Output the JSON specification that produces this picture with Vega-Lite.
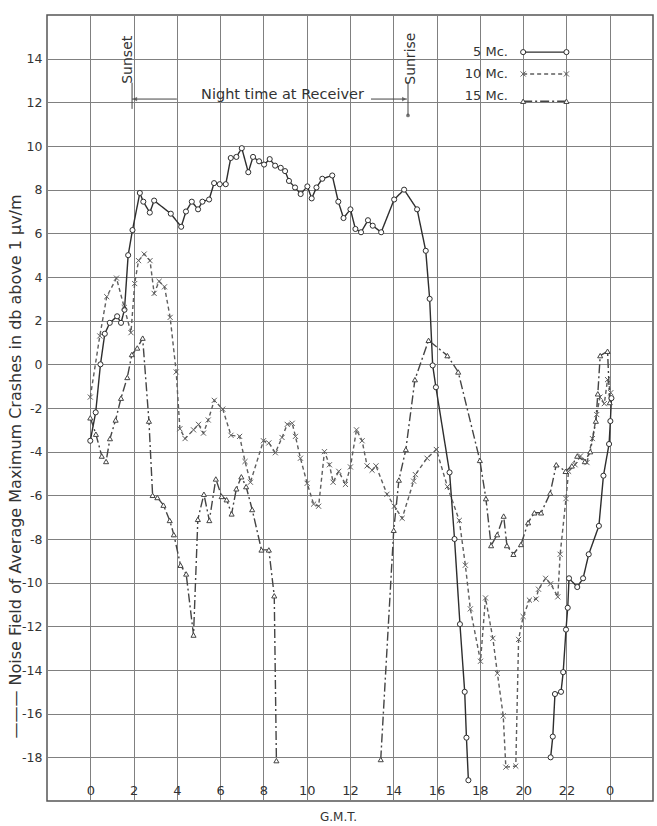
{
  "$schema": "https://vega.github.io/schema/vega-lite/v6.json",
  "width": 606,
  "height": 786,
  "autosize": "none",
  "padding": {"left": 47, "top": 15, "right": 4, "bottom": 25},
  "background": "white",
  "config": {
    "view": {"stroke": "#555", "strokeWidth": 1.5},
    "font": "DejaVu Sans",
    "axis": {"gridColor": "#808080", "gridWidth": 1, "gridOpacity": 1, "domain": false, "ticks": false, "tickSize": 0, "labelColor": "#333", "titleColor": "#333", "labelFont": "DejaVu Sans", "titleFont": "DejaVu Sans"}
  },
  "datasets": {
    "series": [
      {"s": "5 Mc.", "part": "a", "h": 0.0, "v": -3.5},
      {"s": "5 Mc.", "part": "a", "h": 0.25, "v": -2.2},
      {"s": "5 Mc.", "part": "a", "h": 0.47, "v": 0.0},
      {"s": "5 Mc.", "part": "a", "h": 0.67, "v": 1.4},
      {"s": "5 Mc.", "part": "a", "h": 0.9, "v": 1.9},
      {"s": "5 Mc.", "part": "a", "h": 1.24, "v": 2.2},
      {"s": "5 Mc.", "part": "a", "h": 1.42, "v": 1.9},
      {"s": "5 Mc.", "part": "a", "h": 1.58, "v": 2.5},
      {"s": "5 Mc.", "part": "a", "h": 1.75, "v": 5.0},
      {"s": "5 Mc.", "part": "a", "h": 1.95, "v": 6.15},
      {"s": "5 Mc.", "part": "a", "h": 2.29, "v": 7.85},
      {"s": "5 Mc.", "part": "a", "h": 2.45, "v": 7.45},
      {"s": "5 Mc.", "part": "a", "h": 2.75, "v": 6.95},
      {"s": "5 Mc.", "part": "a", "h": 2.95, "v": 7.5},
      {"s": "5 Mc.", "part": "a", "h": 3.72, "v": 6.9},
      {"s": "5 Mc.", "part": "a", "h": 4.2, "v": 6.3},
      {"s": "5 Mc.", "part": "a", "h": 4.42, "v": 7.0},
      {"s": "5 Mc.", "part": "a", "h": 4.69, "v": 7.45},
      {"s": "5 Mc.", "part": "a", "h": 4.98, "v": 7.1},
      {"s": "5 Mc.", "part": "a", "h": 5.18, "v": 7.45},
      {"s": "5 Mc.", "part": "a", "h": 5.49, "v": 7.55},
      {"s": "5 Mc.", "part": "a", "h": 5.72, "v": 8.3},
      {"s": "5 Mc.", "part": "a", "h": 5.98, "v": 8.25},
      {"s": "5 Mc.", "part": "a", "h": 6.26, "v": 8.25},
      {"s": "5 Mc.", "part": "a", "h": 6.49, "v": 9.45},
      {"s": "5 Mc.", "part": "a", "h": 6.75, "v": 9.5},
      {"s": "5 Mc.", "part": "a", "h": 7.0, "v": 9.9},
      {"s": "5 Mc.", "part": "a", "h": 7.3, "v": 8.8},
      {"s": "5 Mc.", "part": "a", "h": 7.52, "v": 9.5},
      {"s": "5 Mc.", "part": "a", "h": 7.8, "v": 9.3},
      {"s": "5 Mc.", "part": "a", "h": 8.03, "v": 9.15},
      {"s": "5 Mc.", "part": "a", "h": 8.29, "v": 9.4},
      {"s": "5 Mc.", "part": "a", "h": 8.54, "v": 9.1},
      {"s": "5 Mc.", "part": "a", "h": 8.8, "v": 9.0},
      {"s": "5 Mc.", "part": "a", "h": 9.0, "v": 8.85},
      {"s": "5 Mc.", "part": "a", "h": 9.18, "v": 8.4},
      {"s": "5 Mc.", "part": "a", "h": 9.46, "v": 8.1},
      {"s": "5 Mc.", "part": "a", "h": 9.72, "v": 7.8},
      {"s": "5 Mc.", "part": "a", "h": 10.03, "v": 8.15},
      {"s": "5 Mc.", "part": "a", "h": 10.23, "v": 7.6},
      {"s": "5 Mc.", "part": "a", "h": 10.45, "v": 8.1},
      {"s": "5 Mc.", "part": "a", "h": 10.72, "v": 8.5},
      {"s": "5 Mc.", "part": "a", "h": 11.18, "v": 8.65},
      {"s": "5 Mc.", "part": "a", "h": 11.46, "v": 7.45},
      {"s": "5 Mc.", "part": "a", "h": 11.7, "v": 6.7},
      {"s": "5 Mc.", "part": "a", "h": 12.02, "v": 7.1},
      {"s": "5 Mc.", "part": "a", "h": 12.25, "v": 6.2},
      {"s": "5 Mc.", "part": "a", "h": 12.51, "v": 6.05},
      {"s": "5 Mc.", "part": "a", "h": 12.83, "v": 6.6},
      {"s": "5 Mc.", "part": "a", "h": 13.05, "v": 6.35},
      {"s": "5 Mc.", "part": "a", "h": 13.44, "v": 6.05},
      {"s": "5 Mc.", "part": "a", "h": 14.04, "v": 7.55},
      {"s": "5 Mc.", "part": "a", "h": 14.5, "v": 8.0},
      {"s": "5 Mc.", "part": "a", "h": 15.1, "v": 7.1},
      {"s": "5 Mc.", "part": "a", "h": 15.5, "v": 5.2},
      {"s": "5 Mc.", "part": "a", "h": 15.68, "v": 3.0},
      {"s": "5 Mc.", "part": "a", "h": 15.82, "v": -0.05},
      {"s": "5 Mc.", "part": "a", "h": 15.97, "v": -1.05},
      {"s": "5 Mc.", "part": "a", "h": 16.6, "v": -4.95},
      {"s": "5 Mc.", "part": "a", "h": 16.83, "v": -8.0},
      {"s": "5 Mc.", "part": "a", "h": 17.08, "v": -11.9},
      {"s": "5 Mc.", "part": "a", "h": 17.3, "v": -15.0},
      {"s": "5 Mc.", "part": "a", "h": 17.38, "v": -17.1},
      {"s": "5 Mc.", "part": "a", "h": 17.47, "v": -19.05},
      {"s": "5 Mc.", "part": "b", "h": 21.27, "v": -18.0},
      {"s": "5 Mc.", "part": "b", "h": 21.37, "v": -17.05},
      {"s": "5 Mc.", "part": "b", "h": 21.47, "v": -15.1},
      {"s": "5 Mc.", "part": "b", "h": 21.75, "v": -15.0},
      {"s": "5 Mc.", "part": "b", "h": 21.85, "v": -14.1},
      {"s": "5 Mc.", "part": "b", "h": 21.98, "v": -12.15},
      {"s": "5 Mc.", "part": "b", "h": 22.06, "v": -11.15},
      {"s": "5 Mc.", "part": "b", "h": 22.12, "v": -9.8},
      {"s": "5 Mc.", "part": "b", "h": 22.5, "v": -10.2},
      {"s": "5 Mc.", "part": "b", "h": 22.77, "v": -9.8},
      {"s": "5 Mc.", "part": "b", "h": 23.03, "v": -8.7},
      {"s": "5 Mc.", "part": "b", "h": 23.5, "v": -7.4},
      {"s": "5 Mc.", "part": "b", "h": 23.71, "v": -5.1},
      {"s": "5 Mc.", "part": "b", "h": 23.97, "v": -3.65},
      {"s": "5 Mc.", "part": "b", "h": 24.03, "v": -2.6},
      {"s": "5 Mc.", "part": "b", "h": 24.08, "v": -1.55},
      {"s": "10 Mc.", "part": "a", "h": 0.0, "v": -1.5},
      {"s": "10 Mc.", "part": "a", "h": 0.44, "v": 1.3},
      {"s": "10 Mc.", "part": "a", "h": 0.76, "v": 3.1},
      {"s": "10 Mc.", "part": "a", "h": 1.21, "v": 3.95},
      {"s": "10 Mc.", "part": "a", "h": 1.57, "v": 2.6},
      {"s": "10 Mc.", "part": "a", "h": 1.88, "v": 1.45},
      {"s": "10 Mc.", "part": "a", "h": 2.05, "v": 3.7},
      {"s": "10 Mc.", "part": "a", "h": 2.23, "v": 4.75},
      {"s": "10 Mc.", "part": "a", "h": 2.49, "v": 5.05},
      {"s": "10 Mc.", "part": "a", "h": 2.76, "v": 4.75},
      {"s": "10 Mc.", "part": "a", "h": 2.95, "v": 3.25},
      {"s": "10 Mc.", "part": "a", "h": 3.18, "v": 3.8},
      {"s": "10 Mc.", "part": "a", "h": 3.43, "v": 3.55},
      {"s": "10 Mc.", "part": "a", "h": 3.69, "v": 2.15},
      {"s": "10 Mc.", "part": "a", "h": 3.97, "v": -0.35},
      {"s": "10 Mc.", "part": "a", "h": 4.14, "v": -2.95},
      {"s": "10 Mc.", "part": "a", "h": 4.38, "v": -3.4},
      {"s": "10 Mc.", "part": "a", "h": 4.77, "v": -3.0},
      {"s": "10 Mc.", "part": "a", "h": 5.0, "v": -2.75},
      {"s": "10 Mc.", "part": "a", "h": 5.23, "v": -3.15},
      {"s": "10 Mc.", "part": "a", "h": 5.45, "v": -2.55},
      {"s": "10 Mc.", "part": "a", "h": 5.73, "v": -1.65},
      {"s": "10 Mc.", "part": "a", "h": 6.12, "v": -2.05},
      {"s": "10 Mc.", "part": "a", "h": 6.5, "v": -3.25},
      {"s": "10 Mc.", "part": "a", "h": 6.9, "v": -3.3},
      {"s": "10 Mc.", "part": "a", "h": 7.15, "v": -4.45},
      {"s": "10 Mc.", "part": "a", "h": 7.4, "v": -5.4},
      {"s": "10 Mc.", "part": "a", "h": 8.0, "v": -3.5},
      {"s": "10 Mc.", "part": "a", "h": 8.25, "v": -3.6},
      {"s": "10 Mc.", "part": "a", "h": 8.55, "v": -4.05},
      {"s": "10 Mc.", "part": "a", "h": 8.86, "v": -3.35},
      {"s": "10 Mc.", "part": "a", "h": 9.1, "v": -2.75},
      {"s": "10 Mc.", "part": "a", "h": 9.33, "v": -2.7},
      {"s": "10 Mc.", "part": "a", "h": 9.48, "v": -3.3},
      {"s": "10 Mc.", "part": "a", "h": 9.71, "v": -4.3},
      {"s": "10 Mc.", "part": "a", "h": 10.02, "v": -5.45},
      {"s": "10 Mc.", "part": "a", "h": 10.32, "v": -6.4},
      {"s": "10 Mc.", "part": "a", "h": 10.55, "v": -6.5},
      {"s": "10 Mc.", "part": "a", "h": 10.82, "v": -4.0},
      {"s": "10 Mc.", "part": "a", "h": 11.05, "v": -4.6},
      {"s": "10 Mc.", "part": "a", "h": 11.22, "v": -5.4},
      {"s": "10 Mc.", "part": "a", "h": 11.48, "v": -4.9},
      {"s": "10 Mc.", "part": "a", "h": 11.79, "v": -5.5},
      {"s": "10 Mc.", "part": "a", "h": 12.02, "v": -4.7},
      {"s": "10 Mc.", "part": "a", "h": 12.3, "v": -3.0},
      {"s": "10 Mc.", "part": "a", "h": 12.56, "v": -3.5},
      {"s": "10 Mc.", "part": "a", "h": 12.79, "v": -4.65},
      {"s": "10 Mc.", "part": "a", "h": 13.02, "v": -4.85},
      {"s": "10 Mc.", "part": "a", "h": 13.2, "v": -4.65},
      {"s": "10 Mc.", "part": "a", "h": 13.71, "v": -5.95},
      {"s": "10 Mc.", "part": "a", "h": 14.05, "v": -6.5},
      {"s": "10 Mc.", "part": "a", "h": 14.41, "v": -7.05},
      {"s": "10 Mc.", "part": "a", "h": 14.94, "v": -5.35},
      {"s": "10 Mc.", "part": "a", "h": 15.02, "v": -5.05},
      {"s": "10 Mc.", "part": "a", "h": 15.56, "v": -4.3},
      {"s": "10 Mc.", "part": "a", "h": 15.99, "v": -3.9},
      {"s": "10 Mc.", "part": "a", "h": 16.5, "v": -5.6},
      {"s": "10 Mc.", "part": "a", "h": 17.05, "v": -7.15},
      {"s": "10 Mc.", "part": "a", "h": 17.33, "v": -9.2},
      {"s": "10 Mc.", "part": "a", "h": 17.56, "v": -11.2},
      {"s": "10 Mc.", "part": "a", "h": 18.03, "v": -13.6},
      {"s": "10 Mc.", "part": "a", "h": 18.26, "v": -10.7},
      {"s": "10 Mc.", "part": "a", "h": 18.6, "v": -12.55},
      {"s": "10 Mc.", "part": "a", "h": 18.81, "v": -14.15},
      {"s": "10 Mc.", "part": "a", "h": 19.08, "v": -16.1},
      {"s": "10 Mc.", "part": "a", "h": 19.2, "v": -18.45},
      {"s": "10 Mc.", "part": "a", "h": 19.66, "v": -18.4},
      {"s": "10 Mc.", "part": "a", "h": 19.79, "v": -12.6},
      {"s": "10 Mc.", "part": "a", "h": 20.0, "v": -11.55},
      {"s": "10 Mc.", "part": "a", "h": 20.29, "v": -10.8},
      {"s": "10 Mc.", "part": "a", "h": 20.6, "v": -10.75},
      {"s": "10 Mc.", "part": "a", "h": 20.71, "v": -10.3},
      {"s": "10 Mc.", "part": "a", "h": 21.04, "v": -9.8},
      {"s": "10 Mc.", "part": "a", "h": 21.27, "v": -10.05},
      {"s": "10 Mc.", "part": "a", "h": 21.6, "v": -10.65},
      {"s": "10 Mc.", "part": "a", "h": 21.71, "v": -8.7},
      {"s": "10 Mc.", "part": "a", "h": 21.98, "v": -6.15},
      {"s": "10 Mc.", "part": "a", "h": 22.1, "v": -4.9},
      {"s": "10 Mc.", "part": "a", "h": 22.4, "v": -4.6},
      {"s": "10 Mc.", "part": "a", "h": 22.65, "v": -4.2},
      {"s": "10 Mc.", "part": "a", "h": 22.95, "v": -4.5},
      {"s": "10 Mc.", "part": "a", "h": 23.2, "v": -3.4},
      {"s": "10 Mc.", "part": "a", "h": 23.4, "v": -2.3},
      {"s": "10 Mc.", "part": "a", "h": 23.55, "v": -1.5},
      {"s": "10 Mc.", "part": "a", "h": 23.75, "v": -1.8},
      {"s": "10 Mc.", "part": "a", "h": 23.9, "v": -0.7},
      {"s": "10 Mc.", "part": "a", "h": 24.05, "v": -1.3},
      {"s": "15 Mc.", "part": "a", "h": 0.0, "v": -2.45},
      {"s": "15 Mc.", "part": "a", "h": 0.26, "v": -3.2},
      {"s": "15 Mc.", "part": "a", "h": 0.53, "v": -4.2},
      {"s": "15 Mc.", "part": "a", "h": 0.73, "v": -4.45},
      {"s": "15 Mc.", "part": "a", "h": 0.91, "v": -3.4},
      {"s": "15 Mc.", "part": "a", "h": 1.17, "v": -2.55},
      {"s": "15 Mc.", "part": "a", "h": 1.42, "v": -1.55},
      {"s": "15 Mc.", "part": "a", "h": 1.71, "v": -0.6},
      {"s": "15 Mc.", "part": "a", "h": 1.92, "v": 0.45},
      {"s": "15 Mc.", "part": "a", "h": 2.17, "v": 0.75},
      {"s": "15 Mc.", "part": "a", "h": 2.42, "v": 1.2},
      {"s": "15 Mc.", "part": "a", "h": 2.71, "v": -2.6},
      {"s": "15 Mc.", "part": "a", "h": 2.88, "v": -6.0},
      {"s": "15 Mc.", "part": "a", "h": 3.1, "v": -6.1},
      {"s": "15 Mc.", "part": "a", "h": 3.38, "v": -6.45},
      {"s": "15 Mc.", "part": "a", "h": 3.67, "v": -7.15},
      {"s": "15 Mc.", "part": "a", "h": 3.86, "v": -7.8},
      {"s": "15 Mc.", "part": "a", "h": 4.17, "v": -9.2},
      {"s": "15 Mc.", "part": "a", "h": 4.43, "v": -9.6},
      {"s": "15 Mc.", "part": "a", "h": 4.77, "v": -12.4},
      {"s": "15 Mc.", "part": "a", "h": 4.97, "v": -7.1},
      {"s": "15 Mc.", "part": "a", "h": 5.25, "v": -5.95},
      {"s": "15 Mc.", "part": "a", "h": 5.5, "v": -7.15},
      {"s": "15 Mc.", "part": "a", "h": 5.8, "v": -5.25},
      {"s": "15 Mc.", "part": "a", "h": 6.07, "v": -6.05},
      {"s": "15 Mc.", "part": "a", "h": 6.3, "v": -6.2},
      {"s": "15 Mc.", "part": "a", "h": 6.53, "v": -6.85},
      {"s": "15 Mc.", "part": "a", "h": 6.75, "v": -5.7},
      {"s": "15 Mc.", "part": "a", "h": 6.98, "v": -5.15},
      {"s": "15 Mc.", "part": "a", "h": 7.2, "v": -5.6},
      {"s": "15 Mc.", "part": "a", "h": 7.48, "v": -6.65},
      {"s": "15 Mc.", "part": "a", "h": 7.91, "v": -8.5},
      {"s": "15 Mc.", "part": "a", "h": 8.25, "v": -8.5},
      {"s": "15 Mc.", "part": "a", "h": 8.5, "v": -10.6},
      {"s": "15 Mc.", "part": "a", "h": 8.6, "v": -18.15},
      {"s": "15 Mc.", "part": "b", "h": 13.42, "v": -18.1},
      {"s": "15 Mc.", "part": "b", "h": 14.02, "v": -7.6},
      {"s": "15 Mc.", "part": "b", "h": 14.26, "v": -5.3},
      {"s": "15 Mc.", "part": "b", "h": 14.58, "v": -3.9},
      {"s": "15 Mc.", "part": "b", "h": 15.0, "v": -0.7},
      {"s": "15 Mc.", "part": "b", "h": 15.63, "v": 1.1},
      {"s": "15 Mc.", "part": "b", "h": 16.5, "v": 0.4},
      {"s": "15 Mc.", "part": "b", "h": 17.0, "v": -0.35},
      {"s": "15 Mc.", "part": "b", "h": 18.0, "v": -4.4},
      {"s": "15 Mc.", "part": "b", "h": 18.28, "v": -6.15},
      {"s": "15 Mc.", "part": "b", "h": 18.52, "v": -8.3},
      {"s": "15 Mc.", "part": "b", "h": 18.8, "v": -7.8},
      {"s": "15 Mc.", "part": "b", "h": 19.1, "v": -6.95},
      {"s": "15 Mc.", "part": "b", "h": 19.25, "v": -8.3},
      {"s": "15 Mc.", "part": "b", "h": 19.55, "v": -8.7},
      {"s": "15 Mc.", "part": "b", "h": 19.9, "v": -8.25},
      {"s": "15 Mc.", "part": "b", "h": 20.23, "v": -7.25},
      {"s": "15 Mc.", "part": "b", "h": 20.52, "v": -6.8},
      {"s": "15 Mc.", "part": "b", "h": 20.83, "v": -6.8},
      {"s": "15 Mc.", "part": "b", "h": 21.25, "v": -5.9},
      {"s": "15 Mc.", "part": "b", "h": 21.53, "v": -4.6},
      {"s": "15 Mc.", "part": "b", "h": 21.96, "v": -4.9},
      {"s": "15 Mc.", "part": "b", "h": 22.25, "v": -4.65},
      {"s": "15 Mc.", "part": "b", "h": 22.5, "v": -4.2},
      {"s": "15 Mc.", "part": "b", "h": 22.85, "v": -4.45},
      {"s": "15 Mc.", "part": "b", "h": 23.1, "v": -4.0},
      {"s": "15 Mc.", "part": "b", "h": 23.36, "v": -2.6},
      {"s": "15 Mc.", "part": "b", "h": 23.45, "v": -1.35},
      {"s": "15 Mc.", "part": "b", "h": 23.56, "v": 0.4},
      {"s": "15 Mc.", "part": "b", "h": 23.9, "v": 0.6},
      {"s": "15 Mc.", "part": "b", "h": 24.0, "v": -1.75}
    ],
    "legend": [
      {"s": "5 Mc.", "part": "k", "h": 20, "v": 14.3},
      {"s": "5 Mc.", "part": "k", "h": 22, "v": 14.3},
      {"s": "10 Mc.", "part": "k", "h": 20, "v": 13.3},
      {"s": "10 Mc.", "part": "k", "h": 22, "v": 13.3},
      {"s": "15 Mc.", "part": "k", "h": 20, "v": 12.05},
      {"s": "15 Mc.", "part": "k", "h": 22, "v": 12.05}
    ],
    "legendLabels": [
      {"s": "5 Mc.", "h": 19.3, "v": 14.3},
      {"s": "10 Mc.", "h": 19.3, "v": 13.3},
      {"s": "15 Mc.", "h": 19.3, "v": 12.3}
    ],
    "vlabels": [
      {"t": "Sunset", "h": 1.72, "v": 13.95},
      {"t": "Sunrise", "h": 14.8, "v": 14.0}
    ],
    "hlabels": [
      {"t": "Night time at Receiver", "h": 8.88, "v": 12.35}
    ],
    "guides": [
      {"h": 1.93, "h2": 1.93, "v": 11.7, "v2": 12.9},
      {"h": 14.68, "h2": 14.68, "v": 11.4, "v2": 12.9},
      {"h": 1.93, "h2": 4.0, "v": 12.15, "v2": 12.15},
      {"h": 12.97, "h2": 14.63, "v": 12.15, "v2": 12.15}
    ],
    "heads": [
      {"k": "sunset", "h": 2.07, "v": 12.15},
      {"k": "sunrise", "h": 14.5, "v": 12.15},
      {"k": "end", "h": 14.68, "v": 11.4}
    ]
  },
  "encoding": {
    "x": {
      "field": "h",
      "type": "quantitative",
      "scale": {"domain": [-2, 26], "nice": false, "zero": false},
      "axis": {
        "values": [0, 2, 4, 6, 8, 10, 12, 14, 16, 18, 20, 22, 24],
        "labelExpr": "datum.value == 24 ? '0' : toString(datum.value)",
        "labelFontSize": 13,
        "labelBaseline": "middle",
        "labelPadding": -11,
        "labelFlush": false,
        "title": "G.M.T.",
        "titleFontSize": 12,
        "titleFontWeight": "normal",
        "titleX": 291,
        "titleY": 15,
        "titleAlign": "center",
        "titleBaseline": "middle"
      }
    },
    "y": {
      "field": "v",
      "type": "quantitative",
      "scale": {"domain": [-20, 16], "nice": false, "zero": false},
      "axis": {
        "values": [-18, -16, -14, -12, -10, -8, -6, -4, -2, 0, 2, 4, 6, 8, 10, 12, 14],
        "labelExpr": "toString(datum.value)",
        "labelFontSize": 12.5,
        "labelPadding": 5,
        "title": "———  Noise  Field of Average Maximum Crashes in db above 1 μv/m",
        "titleFontSize": 16,
        "titleFontWeight": "normal",
        "titleAngle": 270,
        "titleX": -32,
        "titleY": 451,
        "titleAlign": "center",
        "titleBaseline": "middle"
      }
    }
  },
  "layer": [
    {
      "data": {"name": "guides"},
      "mark": {"type": "rule", "color": "#444", "strokeWidth": 1},
      "encoding": {"x2": {"field": "h2"}, "y2": {"field": "v2"}}
    },
    {
      "data": {"name": "heads"},
      "transform": [{"filter": "datum.k == 'sunset'"}],
      "mark": {"type": "point", "filled": true, "color": "#444", "size": 22, "shape": "triangle-left"}
    },
    {
      "data": {"name": "heads"},
      "transform": [{"filter": "datum.k == 'sunrise'"}],
      "mark": {"type": "point", "filled": true, "color": "#444", "size": 22, "shape": "triangle-right"}
    },
    {
      "data": {"name": "heads"},
      "transform": [{"filter": "datum.k == 'end'"}],
      "mark": {"type": "point", "filled": true, "color": "#444", "size": 14, "shape": "circle"}
    },
    {
      "data": {"name": "vlabels"},
      "mark": {"type": "text", "angle": 270, "fontSize": 14, "color": "#333", "align": "center", "baseline": "middle"},
      "encoding": {"text": {"field": "t"}}
    },
    {
      "data": {"name": "hlabels"},
      "mark": {"type": "text", "fontSize": 14.5, "color": "#333", "align": "center", "baseline": "middle"},
      "encoding": {"text": {"field": "t"}}
    },
    {
      "data": {"name": "legendLabels"},
      "mark": {"type": "text", "fontSize": 13, "color": "#333", "align": "right", "baseline": "middle"},
      "encoding": {"text": {"field": "s"}}
    },
    {
      "data": {"name": "series"},
      "mark": {"type": "line", "strokeWidth": 1.4},
      "encoding": {
        "detail": {"field": "part"},
        "stroke": {"field": "s", "type": "nominal", "legend": null, "scale": {"domain": ["5 Mc.", "10 Mc.", "15 Mc."], "range": ["#2e2e2e", "#5e5e5e", "#444444"]}},
        "strokeDash": {"field": "s", "type": "nominal", "legend": null, "scale": {"domain": ["5 Mc.", "10 Mc.", "15 Mc."], "range": [[1, 0], [4, 3], [9, 3, 2, 3]]}}
      }
    },
    {
      "data": {"name": "legend"},
      "mark": {"type": "line", "strokeWidth": 1.4},
      "encoding": {
        "stroke": {"field": "s", "type": "nominal", "legend": null},
        "strokeDash": {"field": "s", "type": "nominal", "legend": null}
      }
    },
    {
      "data": {"name": "series"},
      "mark": {"type": "point", "fill": "white", "filled": false, "strokeWidth": 1, "opacity": 1, "size": 26},
      "encoding": {
        "stroke": {"field": "s", "type": "nominal", "legend": null},
        "shape": {"field": "s", "type": "nominal", "legend": null, "scale": {"domain": ["5 Mc.", "10 Mc.", "15 Mc."], "range": ["circle", "M-1,-1L1,1M-1,1L1,-1", "triangle-up"]}}
      }
    },
    {
      "data": {"name": "legend"},
      "mark": {"type": "point", "fill": "white", "filled": false, "strokeWidth": 1, "opacity": 1, "size": 26},
      "encoding": {
        "stroke": {"field": "s", "type": "nominal", "legend": null},
        "shape": {"field": "s", "type": "nominal", "legend": null}
      }
    }
  ]
}
